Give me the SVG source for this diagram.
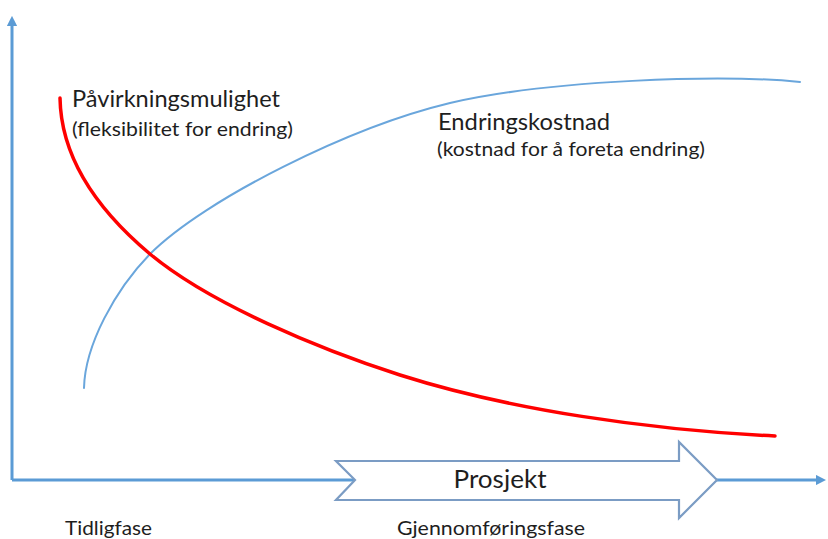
<svg xmlns="http://www.w3.org/2000/svg" width="828" height="539" viewBox="0 0 828 539">
  <style>
    .axis { fill: none; stroke: #5b9bd5; stroke-width: 3; stroke-linejoin: round; }
    .red { fill: none; stroke: #ff0000; stroke-width: 3.5; stroke-linecap: round; }
    .blue { fill: none; stroke: #6aa6dc; stroke-width: 2; stroke-linecap: round; }
    .big { font-family: Lato, "Open Sans", "Liberation Sans", sans-serif; font-size: 22.5px; fill: #1e1e1e; }
    .small { font-family: Lato, "Open Sans", "Liberation Sans", sans-serif; font-size: 20px; fill: #1e1e1e; }
    .proj { font-family: Lato, "Open Sans", "Liberation Sans", sans-serif; font-size: 25.5px; fill: #1e1e1e; }
  </style>
  <defs>
    <marker id="axhead" viewBox="0 0 10 10" refX="2" refY="5" markerWidth="3.4" markerHeight="3.4" orient="auto" markerUnits="strokeWidth">
      <path d="M0,0 L10,5 L0,10 z" fill="#5b9bd5"/>
    </marker>
  </defs>
  <rect width="828" height="539" fill="#ffffff"/>

  <g id="axes">
    <path class="axis" d="M12,480 L12,24" marker-end="url(#axhead)"/>
    <path class="axis" d="M12,480 L818,480" marker-end="url(#axhead)"/>
  </g>

  <g id="project-arrow">
    <polygon points="336,461 679,461 679,442 717,480 679,518 679,500 336,500 355,480" fill="#ffffff" stroke="#7b9cc4" stroke-width="2.2" stroke-linejoin="miter"/>
    <text class="proj" x="500" y="488" text-anchor="middle" textLength="93" lengthAdjust="spacingAndGlyphs">Prosjekt</text>
  </g>

  <g id="curves">
    <path id="cost-curve" class="blue" d="M84,388 C85,345 115,290 150,254 C205,199 350,127 450,103 C550,80 720,74 800,82"/>
    <path id="influence-curve" class="red" d="M60,98 C61,160 100,212 150,254 C210,304 320,349.4 400,375 C510,410 650,430 775,436"/>
  </g>

  <g id="label-influence">
    <text class="big" x="72" y="107" textLength="208" lengthAdjust="spacingAndGlyphs">Påvirkningsmulighet</text>
    <text class="small" x="72" y="136" textLength="221" lengthAdjust="spacingAndGlyphs">(fleksibilitet for endring)</text>
  </g>

  <g id="label-cost">
    <text class="big" x="438" y="130" textLength="172" lengthAdjust="spacingAndGlyphs">Endringskostnad</text>
    <text class="small" x="437" y="156" textLength="268" lengthAdjust="spacingAndGlyphs">(kostnad for å foreta endring)</text>
  </g>

  <g id="phase-labels">
    <text class="small" x="65" y="535" textLength="87" lengthAdjust="spacingAndGlyphs">Tidligfase</text>
    <text class="small" x="397" y="535" textLength="188" lengthAdjust="spacingAndGlyphs">Gjennomføringsfase</text>
  </g>
</svg>
